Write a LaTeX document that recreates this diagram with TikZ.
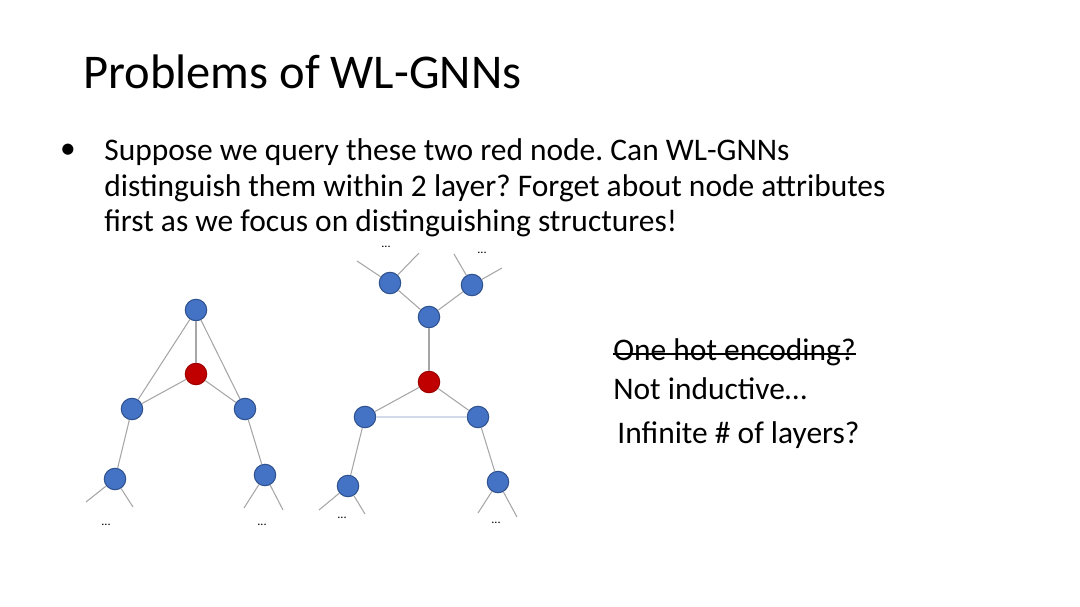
\documentclass[tikz,border=0pt]{standalone}
\usepackage{fontspec}
\setmainfont{Carlito}
\usepackage{tikz}
\usetikzlibrary{positioning}
\definecolor{vblue}{HTML}{4472C4}
\definecolor{vborder}{HTML}{2F528F}
\definecolor{vred}{HTML}{C00000}
\definecolor{rborder}{HTML}{9E0000}
\definecolor{egray}{HTML}{A6A6A6}
\definecolor{lav}{HTML}{D3DAEA}
\tikzset{
  link/.style={draw=egray, line width=0.6pt},
  lavlink/.style={draw=lav, line width=1.6pt},
  vtx/.style={circle, fill=vblue, draw=vborder, line width=0.6pt, minimum size=0.43cm, inner sep=0pt},
  qvtx/.style={vtx, fill=vred, draw=rborder},
  title/.style={anchor=base west, inner sep=0pt, font=\fontsize{27.6}{33}\selectfont},
  body/.style={anchor=base west, inner sep=0pt, font=\fontsize{17.9}{21}\selectfont},
  more/.style={inner sep=0pt, font=\fontsize{7}{8}\selectfont}
}
\frenchspacing
\begin{document}
\begin{tikzpicture}[x=0.02cm, y=-0.02cm]
  \useasboundingbox (0,0) rectangle (1080,607);

  \node[title] (ttl) at (83,89) {Problems of WL-GNNs};
  \node[body, anchor=center] (bul) at (68,151) {•};
  \node[body] (q1) at (104,161) {Suppose we query these two red node. Can WL-GNNs};
  \node[body] (q2) at (104,197) {distinguish them within 2 layer? Forget about node attributes};
  \node[body] (q3) at (104,232) {first as we focus on distinguishing structures!};

  \node[body] (enc) at (613,361) {One hot encoding?};
  \draw[line width=1.1pt] ([yshift=0.14cm]enc.base west) -- ([yshift=0.14cm]enc.base east);
  \node[body] (ind) at (613,400) {Not inductive…};
  \node[body] (inf) at (617,444) {Infinite \# of layers?};

  % left graph
  \node[vtx] (ltop) at (196,310) {};
  \node[qvtx] (lq) at (196,374) {};
  \node[vtx] (lml) at (132,409) {};
  \node[vtx] (lmr) at (245,409) {};
  \node[vtx] (lbl) at (115,479) {};
  \node[vtx] (lbr) at (265,475) {};
  \coordinate (lbl1) at (86,502);
  \coordinate (lbl2) at (133,507);
  \coordinate (lbr1) at (244,508);
  \coordinate (lbr2) at (283,510);
  \draw[link] (ltop) -- (lq);
  \draw[link] (ltop) -- (lml);
  \draw[link] (ltop) -- (lmr);
  \draw[link] (lq) -- (lml);
  \draw[link] (lq) -- (lmr);
  \draw[link] (lml) -- (lbl);
  \draw[link] (lmr) -- (lbr);
  \draw[link] (lbl) -- (lbl1);
  \draw[link] (lbl) -- (lbl2);
  \draw[link] (lbr) -- (lbr1);
  \draw[link] (lbr) -- (lbr2);
  \node[more] (ld1) at (106,525) {...};
  \node[more] (ld2) at (262,525) {...};

  % right graph
  \node[vtx] (rtl) at (390,283) {};
  \node[vtx] (rtr) at (472,285) {};
  \node[vtx] (rup) at (429,317) {};
  \node[qvtx] (rq) at (429,382) {};
  \node[vtx] (rml) at (365,417) {};
  \node[vtx] (rmr) at (478,417) {};
  \node[vtx] (rbl) at (348,486) {};
  \node[vtx] (rbr) at (498,482) {};
  \coordinate (rtl1) at (357,261);
  \coordinate (rtl2) at (419,253);
  \coordinate (rtr1) at (454,254);
  \coordinate (rtr2) at (502,268);
  \coordinate (rbl1) at (319,510);
  \coordinate (rbl2) at (365,514);
  \coordinate (rbr1) at (478,513);
  \coordinate (rbr2) at (517,517);
  \draw[link] (rtl) -- (rup);
  \draw[link] (rtr) -- (rup);
  \draw[link] (rup) -- (rq);
  \draw[link] (rq) -- (rml);
  \draw[link] (rq) -- (rmr);
  \draw[lavlink] (rml) -- (rmr);
  \draw[link] (rml) -- (rbl);
  \draw[link] (rmr) -- (rbr);
  \draw[link] (rtl) -- (rtl1);
  \draw[link] (rtl) -- (rtl2);
  \draw[link] (rtr) -- (rtr1);
  \draw[link] (rtr) -- (rtr2);
  \draw[link] (rbl) -- (rbl1);
  \draw[link] (rbl) -- (rbl2);
  \draw[link] (rbr) -- (rbr1);
  \draw[link] (rbr) -- (rbr2);
  \node[more] (rd1) at (386,247) {...};
  \node[more] (rd2) at (482,253) {...};
  \node[more] (rd3) at (342,518) {...};
  \node[more] (rd4) at (496,523) {...};
\end{tikzpicture}
\end{document}
